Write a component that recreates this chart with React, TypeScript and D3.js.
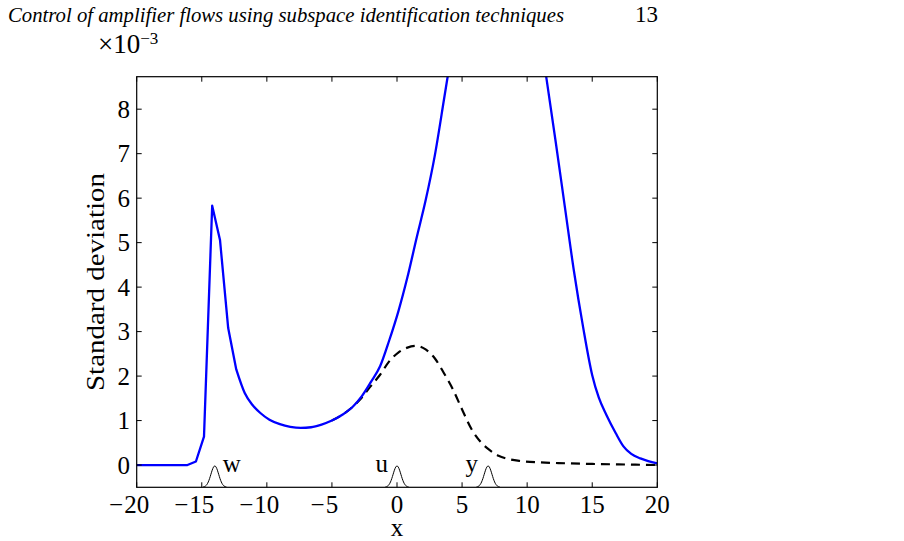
import React from "react";
import * as d3 from "d3";

// ---- data ----
const solidX = [-20, -16.1, -15.45, -14.83, -14.2, -13.6, -12.97, -12.35, -11.7, -11.1, -10.5, -9.8, -9.0, -8.2, -7.4, -6.6, -5.8, -5.0, -4.2, -3.4, -2.7, -2.0, -1.3, -0.6, 0.1, 0.8, 1.5, 2.2, 2.9, 3.6, 4.3, 5, 6, 7, 8, 9, 10, 10.8, 11.5, 12.2, 12.9, 13.6, 14.3, 15.0, 15.5, 16.1, 16.8, 17.4, 18.0, 18.7, 19.3, 20];
const solidY = [0, 0, 0.08, 0.64, 5.83, 5.06, 3.08, 2.15, 1.62, 1.35, 1.17, 1.02, 0.92, 0.86, 0.835, 0.85, 0.91, 1.0, 1.13, 1.31, 1.55, 1.87, 2.22, 2.8, 3.45, 4.22, 5.1, 5.95, 6.95, 8.2, 9.5, 11, 13, 14.5, 15, 14, 11.2, 10, 8.66, 7.25, 5.8, 4.35, 3.1, 2.02, 1.52, 1.12, 0.72, 0.42, 0.25, 0.15, 0.09, 0.04];

const dashX = [-5.0, -4.2, -3.4, -2.7, -2.0, -1.3, -0.6, 0.1, 0.8, 1.5, 2.2, 2.9, 3.6, 4.3, 5.0, 5.7, 6.4, 7.1, 7.8, 8.5, 9.5, 11, 13, 15, 17, 20];
const dashY = [1.0, 1.13, 1.31, 1.52, 1.78, 2.03, 2.33, 2.53, 2.64, 2.68, 2.6, 2.4, 2.07, 1.7, 1.25, 0.82, 0.53, 0.34, 0.21, 0.14, 0.09, 0.06, 0.04, 0.025, 0.015, 0.0];

// small actuator/sensor bumps
const markerNames = ["w", "u", "y"];
const markerCenters = [-14, 0, 7];
const bumpOffsets = [-0.9, -0.8, -0.7, -0.6, -0.5, -0.4, -0.3, -0.2, -0.1, 0, 0.1, 0.2, 0.3, 0.4, 0.5, 0.6, 0.7, 0.8, 0.9];
const bumpHeights = [0.005, 0.014, 0.032, 0.065, 0.12, 0.197, 0.291, 0.384, 0.454, 0.48, 0.454, 0.384, 0.291, 0.197, 0.12, 0.065, 0.032, 0.014, 0.005];

const xTicks = [-20, -15, -10, -5, 0, 5, 10, 15, 20];
const yTicks = [0, 1, 2, 3, 4, 5, 6, 7, 8];

const titleText = "Control of amplifier flows using subspace identification techniques";
const pageNumber = "13";
const yLabel = "Standard deviation";
const xLabel = "x";

export default function App() {
  const W = 904, H = 541;
  const left = 136.7, right = 657.3, top = 76.7, bottom = 487.3;
  const x = d3.scaleLinear().domain([-20, 20]).range([left, right]);
  const y = d3.scaleLinear().domain([-0.5, 8.73]).range([bottom, top]);
  const font = "'Liberation Serif', 'DejaVu Serif', serif";
  const fs = 25;

  const line = d3.line<[number, number]>().x(d => x(d[0])).y(d => y(d[1]));
  const smooth = d3.line<[number, number]>().x(d => x(d[0])).y(d => y(d[1])).curve(d3.curveMonotoneX);
  const solidPts = solidX.map((v, i) => [v, solidY[i]] as [number, number]);
  const splitAt = solidX.indexOf(-12.35);
  const spikePts = solidPts.slice(0, splitAt + 1);
  const restPts = solidPts.slice(splitAt);
  const dashPts = dashX.map((v, i) => [v, dashY[i]] as [number, number]);
  const baseY = -0.5;

  const tickLen = 5;
  const labelOffsets = [{ dx: 8, anchor: "start" }, { dx: -9, anchor: "end" }, { dx: -10, anchor: "end" }];

  return (
    <svg width={W} height={H} style={{ position: "absolute", left: 0, top: 0, background: "#fff" }} fontFamily={font}>
      <defs>
        <clipPath id="plotClip">
          <rect x={left} y={top} width={right - left} height={bottom - top} />
        </clipPath>
      </defs>
      {/* page header */}
      <text x={8} y={22} fontSize={22} fontStyle="italic" textLength={556} lengthAdjust="spacingAndGlyphs">{titleText}</text>
      <text x={658} y={22} fontSize={23} textAnchor="end">{pageNumber}</text>
      {/* exponent */}
      <text x={98} y={53} fontSize={27}>
        ×10<tspan dy={-9} fontSize={17}>−3</tspan>
      </text>

      <g clipPath="url(#plotClip)">
        <path d={smooth(dashPts) || ""} fill="none" stroke="#000" strokeWidth={2.2} strokeDasharray="9,6" />
        <path d={(line(spikePts) || "") + (smooth(restPts) || "")} fill="none" stroke="#0000ff" strokeWidth={2.3} strokeLinejoin="round" />
        {markerCenters.map((c, k) => (
          <path key={k} d={smooth(bumpOffsets.map((o, i) => [c + o, baseY + bumpHeights[i]] as [number, number])) || ""} fill="none" stroke="#000" strokeWidth={1} />
        ))}
      </g>
      {markerCenters.map((c, k) => (
        <text key={k} x={x(c) + labelOffsets[k].dx} y={471.5} fontSize={fs} textAnchor={labelOffsets[k].anchor as any}>{markerNames[k]}</text>
      ))}

      {/* axes box */}
      <rect x={left} y={top} width={right - left} height={bottom - top} fill="none" stroke="#000" strokeWidth={1.2} />
      {xTicks.map(t => {
        const digits = String(Math.abs(t));
        const half = digits.length * 0.25 * fs;
        return (
          <g key={"xt" + t}>
            <line x1={x(t)} x2={x(t)} y1={bottom} y2={bottom - tickLen} stroke="#000" strokeWidth={1} />
            <line x1={x(t)} x2={x(t)} y1={top} y2={top + tickLen} stroke="#000" strokeWidth={1} />
            <text x={x(t)} y={513} fontSize={fs} textAnchor="middle">{digits}</text>
            {t < 0 && <text x={x(t) - half - 1} y={513} fontSize={fs} textAnchor="end">−</text>}
          </g>
        );
      })}
      {yTicks.map(t => (
        <g key={"yt" + t}>
          <line x1={left} x2={left + tickLen} y1={y(t)} y2={y(t)} stroke="#000" strokeWidth={1} />
          <line x1={right} x2={right - tickLen} y1={y(t)} y2={y(t)} stroke="#000" strokeWidth={1} />
          <text x={130} y={y(t) + 8.5} fontSize={fs} textAnchor="end">{String(t)}</text>
        </g>
      ))}
      <text x={397} y={536} fontSize={fs} textAnchor="middle">{xLabel}</text>
      <text transform={`translate(104, ${(top + bottom) / 2}) rotate(-90)`} fontSize={fs} textAnchor="middle" textLength={218} lengthAdjust="spacingAndGlyphs">{yLabel}</text>
    </svg>
  );
}
